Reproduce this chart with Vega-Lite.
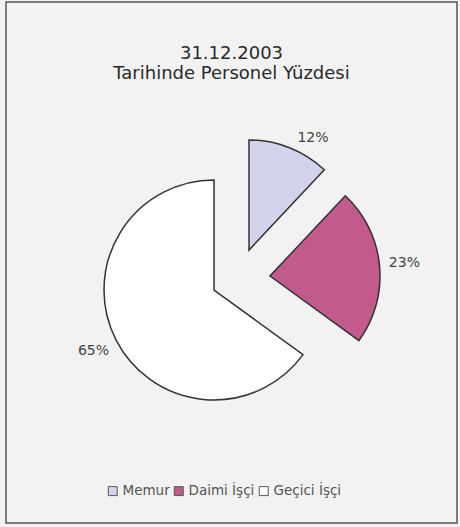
{
  "$schema": "https://vega.github.io/schema/vega-lite/v6.json",
  "width": 460,
  "height": 527,
  "autosize": {"type": "fit", "contains": "padding"},
  "padding": {"left": 6, "top": 2, "right": 3, "bottom": 4},
  "background": "#f2f2f2",
  "view": {"stroke": "#555555", "strokeWidth": 1.5, "fill": "#f2f2f2"},
  "config": {"font": "DejaVu Sans"},
  "title": {
    "text": ["31.12.2003", "Tarihinde Personel Yüzdesi"],
    "fontSize": 18,
    "fontWeight": "normal",
    "color": "#2a2a2a",
    "offset": -81,
    "anchor": "middle",
    "lineHeight": 20
  },
  "data": {
    "values": [
      {"cat": "Memur", "value": 12, "order": 1, "label": "12%"},
      {"cat": "Daimi İşçi", "value": 23, "order": 2, "label": "23%"},
      {"cat": "Geçici İşçi", "value": 65, "order": 3, "label": "65%"}
    ]
  },
  "encoding": {
    "theta": {"field": "value", "type": "quantitative", "stack": true},
    "order": {"field": "order", "type": "quantitative"},
    "color": {
      "field": "cat",
      "type": "nominal",
      "scale": {"domain": ["Memur", "Daimi İşçi", "Geçici İşçi"], "range": ["#d3d3ec", "#c25a8e", "#ffffff"]},
      "legend": {
        "orient": "none",
        "legendX": 100,
        "legendY": 482,
        "direction": "horizontal",
        "title": null,
        "symbolType": "square",
        "symbolSize": 80,
        "symbolStrokeColor": "#555555",
        "symbolStrokeWidth": 1,
        "symbolOpacity": 1,
        "labelFontSize": 13.5,
        "labelColor": "#555555",
        "columnPadding": 2,
        "labelOffset": 3
      }
    }
  },
  "layer": [
    {
      "mark": {"type": "arc", "outerRadius": 110, "stroke": "#333333", "strokeWidth": 1.5, "xOffset": -17.5, "yOffset": 27.5},
      "encoding": {"opacity": {"condition": {"test": "datum.cat === 'Geçici İşçi'", "value": 1}, "value": 0}}
    },
    {
      "mark": {"type": "arc", "outerRadius": 110, "stroke": "#333333", "strokeWidth": 1.5, "xOffset": 17.5, "yOffset": -12.5},
      "encoding": {"opacity": {"condition": {"test": "datum.cat === 'Memur'", "value": 1}, "value": 0}}
    },
    {
      "mark": {"type": "arc", "outerRadius": 110, "stroke": "#333333", "strokeWidth": 1.5, "xOffset": 38.5, "yOffset": 13.5},
      "encoding": {"opacity": {"condition": {"test": "datum.cat === 'Daimi İşçi'", "value": 1}, "value": 0}}
    },
    {
      "mark": {"type": "text", "radius": 133, "fontSize": 14, "xOffset": -19.5, "yOffset": 28.5},
      "encoding": {"text": {"field": "label"}, "color": {"value": "#444444"}, "opacity": {"condition": {"test": "datum.cat === 'Geçici İşçi'", "value": 1}, "value": 0}}
    },
    {
      "mark": {"type": "text", "radius": 133, "fontSize": 14, "xOffset": 32.5, "yOffset": -0.5},
      "encoding": {"text": {"field": "label"}, "color": {"value": "#444444"}, "opacity": {"condition": {"test": "datum.cat === 'Memur'", "value": 1}, "value": 0}}
    },
    {
      "mark": {"type": "text", "radius": 133, "fontSize": 14, "xOffset": 40.5, "yOffset": 13.5},
      "encoding": {"text": {"field": "label"}, "color": {"value": "#444444"}, "opacity": {"condition": {"test": "datum.cat === 'Daimi İşçi'", "value": 1}, "value": 0}}
    }
  ]
}
